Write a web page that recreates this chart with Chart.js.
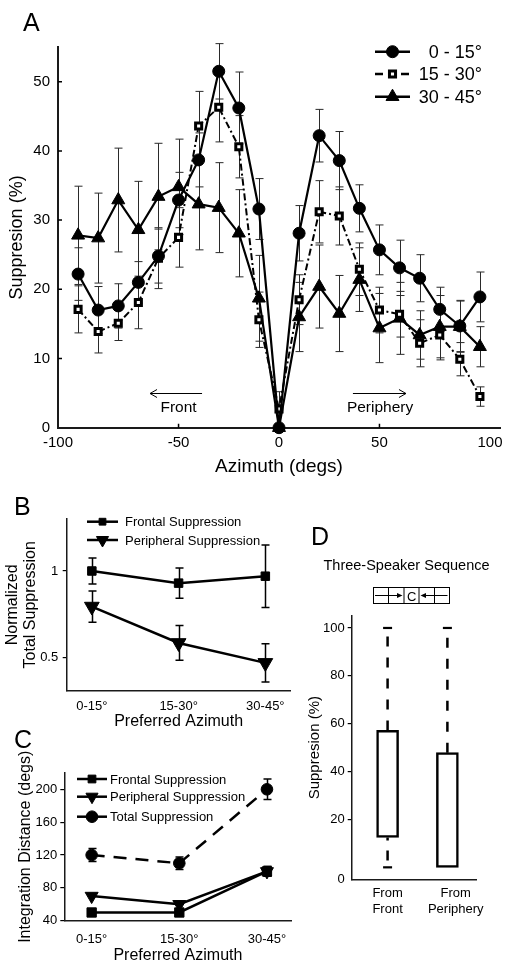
<!DOCTYPE html>
<html><head><meta charset="utf-8">
<script src="https://cdn.jsdelivr.net/npm/chart.js@4.4.0/dist/chart.umd.min.js"></script>
<style>
html,body{margin:0;padding:0;background:#fff;}
body{width:511px;height:968px;position:relative;overflow:hidden;font-family:"Liberation Sans",Arial,Helvetica,sans-serif;color:#000;}
canvas{position:absolute;}
.lbl{position:absolute;font-size:25px;line-height:1;}
.ttl{position:absolute;font-size:14.5px;line-height:1;text-align:center;white-space:nowrap;}
svg{position:absolute;left:0;top:0;}
</style></head><body>
<canvas id="cA" width="511" height="480" style="left:0;top:0;width:511px;height:480px"></canvas>
<canvas id="cB" width="300" height="255" style="left:0;top:480px;width:300px;height:255px"></canvas>
<canvas id="cC" width="300" height="238" style="left:0;top:730px;width:300px;height:238px"></canvas>
<canvas id="cD" width="211" height="488" style="left:300px;top:480px;width:211px;height:488px"></canvas>
<div class="lbl" style="left:23px;top:10px">A</div>
<div class="lbl" style="left:14px;top:494px">B</div>
<div class="lbl" style="left:14px;top:727px">C</div>
<div class="lbl" style="left:311px;top:524px">D</div>
<div class="ttl" style="left:301px;top:558px;width:211px">Three-Speaker Sequence</div>
<svg width="511" height="968" viewBox="0 0 511 968">
  <g stroke="#000" stroke-width="1" fill="none">
    <rect x="373.5" y="587.5" width="76" height="16"/>
    <line x1="388.5" y1="587.5" x2="388.5" y2="603.5"/>
    <line x1="404" y1="587.5" x2="404" y2="603.5"/>
    <line x1="419" y1="587.5" x2="419" y2="603.5"/>
    <line x1="434.5" y1="587.5" x2="434.5" y2="603.5"/>
    <line x1="375" y1="595.5" x2="398" y2="595.5"/>
    <line x1="447.5" y1="595.5" x2="425" y2="595.5"/>
  </g>
  <polygon points="402.5,595.5 397,593 397,598" fill="#000"/>
  <polygon points="420.5,595.5 426,593 426,598" fill="#000"/>
  <text x="411.7" y="600.5" font-size="13" text-anchor="middle" font-family="Liberation Sans, Arial, sans-serif">C</text>
</svg>
<script>
const FONT = '"Liberation Sans", Arial, Helvetica, sans-serif';
Chart.defaults.font.family = FONT;
Chart.defaults.color = '#000';
Chart.defaults.animation = false;

// ---------- Panel A data ----------
const azimuthDeg = [-100,-90,-80,-70,-60,-50,-40,-30,-20,-10,0,10,20,30,40,50,60,70,80,90,100];
const supp0to15  = [22.2,17.0,17.6,21.0,24.8,32.9,38.7,51.5,46.2,31.6,0,28.1,42.2,38.6,31.7,25.7,23.1,21.6,17.1,14.7,18.9];
const sem0to15   = [3.8,3.4,3.2,3.0,3.9,4.0,3.9,4.0,5.2,4.4,0,4.0,3.8,4.2,3.4,3.6,4.0,3.4,3.2,3.7,3.6];
const supp15to30 = [17.1,13.9,15.1,18.1,24.5,27.5,43.6,46.3,40.6,15.6,2.7,18.5,31.2,30.6,22.9,17.0,16.4,12.2,13.4,9.9,4.5];
const sem15to30  = [3.4,3.1,2.5,3.8,4.4,4.3,5.0,5.0,4.5,4.0,2.5,3.6,4.5,4.2,3.8,3.3,3.3,3.4,3.6,2.4,1.4];
const supp30to45 = [27.8,27.4,32.9,28.6,33.4,34.8,32.3,31.8,28.1,18.7,0,16.0,20.4,16.5,21.4,14.4,15.8,13.4,14.6,14.6,11.7];
const sem30to45  = [7.1,6.5,7.5,7.0,7.7,6.9,6.6,6.5,6.3,6.2,0,5.0,6.0,5.5,4.6,5.0,5.2,3.5,4.5,3.7,2.9];
const azTickValues = [-110,-50,0,50,105];
const azTickLabels = ['-100','-50','0','50','100'];
const suppTickValues = [0,10,20,30,40,50];

// ---------- Panel B data ----------
const prefAzIndex  = [0,1,2];
const prefAzLabels = ['0-15°','15-30°','30-45°'];
const frontalNorm    = [1.0, 0.93, 0.97];
const frontalNormErr = [0.075, 0.087, 0.18];
const periphNorm     = [0.795, 0.585, 0.47];
const periphNormErr  = [0.09, 0.10, 0.11];
const normTickValues = [0.5, 1];
const normTickLabels = ['0.5', '1'];

// ---------- Panel C data ----------
const frontalDist    = [50, 50, 100];
const frontalDistErr = [0, 0, 6];
const periphDist     = [70, 60, 100];
const periphDistErr  = [0, 0, 6];
const totalDist      = [120, 110, 200];
const totalDistErr   = [8, 7.5, 12.5];
const distTickValues = [40, 80, 120, 160, 200];

// ---------- Panel D data ----------
const seqGroups   = [['From','Front'], ['From','Periphery']];
const seqPos      = [0, 1];
const seqLabelPos = [0, 1.14];
const boxMin    = [0, 0];
const boxQ1     = [12.5, 0];
const boxMedian = [33.3, 20];
const boxQ3     = [57.2, 47.9];
const boxMax    = [100, 100];
const seqTickValues = [-5, 20, 40, 60, 80, 100];
const seqTickLabels = ['0','20','40','60','80','100'];

const pts = (xs, ys) => xs.map((x, i) => ({x, y: ys[i]}));

// ---------- plugins ----------
const errorBars = {
  id: 'errorBars',
  beforeDatasetsDraw(chart) {
    const ctx = chart.ctx;
    chart.data.datasets.forEach((ds, i) => {
      if (!ds.errors) return;
      const meta = chart.getDatasetMeta(i);
      const xs = chart.scales[meta.xAxisID], ys = chart.scales[meta.yAxisID];
      ctx.save();
      ctx.strokeStyle = ds.errColor || '#000';
      ctx.lineWidth = ds.errWidth || 1;
      const c = (ds.capW || 8) / 2;
      ds.data.forEach((p, j) => {
        const e = ds.errors[j];
        if (!e) return;
        const x = Math.round(xs.getPixelForValue(p.x)) + 0.5;
        const y1 = ys.getPixelForValue(p.y + e), y2 = ys.getPixelForValue(p.y - e);
        ctx.beginPath();
        ctx.moveTo(x, y1); ctx.lineTo(x, y2);
        ctx.moveTo(x - c, y1); ctx.lineTo(x + c, y1);
        ctx.moveTo(x - c, y2); ctx.lineTo(x + c, y2);
        ctx.stroke();
      });
      ctx.restore();
    });
  }
};

const customLegend = {
  id: 'customLegend',
  afterDraw(chart, args, o) {
    if (!o || !o.items) return;
    const ctx = chart.ctx;
    o.items.forEach(it => {
      const ds = chart.data.datasets[it.ds];
      ctx.save();
      ctx.strokeStyle = '#000';
      ctx.lineWidth = it.lw || ds.borderWidth;
      ctx.setLineDash(it.dash || []);
      ctx.beginPath(); ctx.moveTo(it.x1, it.y); ctx.lineTo(it.x2, it.y); ctx.stroke();
      ctx.setLineDash([]);
      ctx.fillStyle = ds.pointBackgroundColor || '#000';
      ctx.strokeStyle = '#000';
      ctx.lineWidth = ds.pointBorderWidth || 1;
      Chart.helpers.drawPoint(ctx, {pointStyle: ds.pointStyle, rotation: ds.pointRotation || 0,
        radius: it.r || ds.pointRadius, borderWidth: ds.pointBorderWidth || 1}, (it.x1 + it.x2) / 2, it.y);
      ctx.fillStyle = '#000';
      ctx.font = o.size + 'px ' + FONT;
      ctx.textAlign = it.align || 'left';
      ctx.textBaseline = 'middle';
      ctx.fillText(ds.label, it.tx, it.y + 1);
      ctx.restore();
    });
  }
};

const inwardTicks = {
  id: 'inwardTicks',
  afterDraw(chart, args, o) {
    if (!o || !o.len) return;
    const {ctx, chartArea: ca, scales} = chart;
    ctx.save(); ctx.strokeStyle = '#000'; ctx.lineWidth = 1.5;
    ctx.beginPath();
    (o.x || []).forEach(v => { const p = scales.x.getPixelForValue(v); ctx.moveTo(p, ca.bottom); ctx.lineTo(p, ca.bottom - o.len); });
    (o.y || []).forEach(v => { const p = scales.y.getPixelForValue(v); ctx.moveTo(ca.left, p); ctx.lineTo(ca.left + o.len, p); });
    ctx.stroke(); ctx.restore();
  }
};

const directionNotes = {
  id: 'directionNotes',
  afterDraw(chart, args, o) {
    if (!o || !o.notes) return;
    const {ctx, scales} = chart;
    ctx.save();
    ctx.strokeStyle = '#000'; ctx.fillStyle = '#000'; ctx.lineWidth = 1;
    ctx.font = o.size + 'px ' + FONT; ctx.textAlign = 'center'; ctx.textBaseline = 'middle';
    o.notes.forEach(n => {
      const xa = scales.x.getPixelForValue(n.from), xb = scales.x.getPixelForValue(n.to);
      const y = Math.round(scales.y.getPixelForValue(n.arrowY)) + 0.5;
      const dir = xb > xa ? 1 : -1;
      ctx.beginPath();
      ctx.moveTo(xa, y); ctx.lineTo(xb, y);
      ctx.moveTo(xb - dir * 7, y - 4); ctx.lineTo(xb, y); ctx.lineTo(xb - dir * 7, y + 4);
      ctx.stroke();
      ctx.fillText(n.text, scales.x.getPixelForValue(n.textX), scales.y.getPixelForValue(n.textY));
    });
    ctx.restore();
  }
};

const noHover = {legend: {display: false}, tooltip: {enabled: false}};

// ---------- Chart A ----------
new Chart(document.getElementById('cA'), {
  type: 'line',
  data: {datasets: [
    {label: '0 - 15°', data: pts(azimuthDeg, supp0to15), errors: sem0to15, errColor: '#2a2a2a', errWidth: 1, capW: 8,
     borderColor: '#000', borderWidth: 2.2, pointStyle: 'circle', pointRadius: 6, pointBorderWidth: 1,
     pointBackgroundColor: '#000', pointBorderColor: '#000', clip: false},
    {label: '15 - 30°', data: pts(azimuthDeg, supp15to30), errors: sem15to30, errColor: '#2a2a2a', errWidth: 1, capW: 8,
     borderColor: '#000', borderWidth: 2, borderDash: [7, 3, 2, 3], pointStyle: 'rect', pointRadius: 4.3, pointBorderWidth: 3,
     pointBackgroundColor: '#fff', pointBorderColor: '#000', clip: false},
    {label: '30 - 45°', data: pts(azimuthDeg, supp30to45), errors: sem30to45, errColor: '#2a2a2a', errWidth: 1, capW: 8,
     borderColor: '#000', borderWidth: 2.2, pointStyle: 'triangle', pointRadius: 7.5, pointBorderWidth: 1,
     pointBackgroundColor: '#000', pointBorderColor: '#000', clip: false}
  ]},
  options: {
    responsive: false, animation: false,
    layout: {padding: {top: 47.1, right: 11, left: 0, bottom: 0}},
    plugins: Object.assign({}, noHover, {
      customLegend: {size: 18, items: [
        {ds: 0, x1: 375, x2: 410, y: 51.7, tx: 482, align: 'right', lw: 2.5},
        {ds: 1, x1: 375, x2: 410, y: 74, tx: 482, align: 'right', lw: 2.5, dash: [8, 5]},
        {ds: 2, x1: 375, x2: 410, y: 96.7, tx: 482, align: 'right', lw: 2.5}
      ]},
      inwardTicks: {len: 4, x: [-50, 0, 50], y: [10, 20, 30, 40, 50]},
      directionNotes: {size: 15.5, notes: [
        {from: -38.3, to: -64.2, arrowY: 5.0, text: 'Front', textX: -50, textY: 2.85},
        {from: 36.8, to: 63.2, arrowY: 5.0, text: 'Periphery', textX: 50.3, textY: 2.85}
      ]}
    }),
    scales: {
      x: {type: 'linear', min: -110, max: 110,
        afterFit(s) { s.height = 52.3; },
        afterBuildTicks(s) { s.ticks = azTickValues.map(v => ({value: v})); },
        ticks: {callback: (v, i) => azTickLabels[i], font: {size: 15}, color: '#000', padding: 6, maxRotation: 0, autoSkip: false},
        grid: {display: false, drawTicks: false},
        border: {display: true, color: '#1a1a1a', width: 2},
        title: {display: true, text: 'Azimuth (degs)', font: {size: 19}, color: '#000', padding: {top: 0, bottom: 2}}
      },
      y: {type: 'linear', min: 0, max: 55,
        afterFit(s) { s.width = 58; },
        afterBuildTicks(s) { s.ticks = suppTickValues.map(v => ({value: v})); },
        ticks: {font: {size: 15}, color: '#000', padding: 8},
        grid: {display: false, drawTicks: false},
        border: {display: true, color: '#1a1a1a', width: 2},
        title: {display: true, text: 'Suppresion (%)', font: {size: 18}, color: '#000', padding: {top: 6, bottom: 0}}
      }
    }
  },
  plugins: [errorBars, customLegend, inwardTicks, directionNotes]
});

// ---------- Chart B ----------
new Chart(document.getElementById('cB'), {
  type: 'line',
  data: {datasets: [
    {label: 'Frontal Suppression', data: pts(prefAzIndex, frontalNorm), errors: frontalNormErr, errWidth: 1.5, capW: 8,
     borderColor: '#000', borderWidth: 2.5, pointStyle: 'rect', pointRadius: 6, pointBorderWidth: 1,
     pointBackgroundColor: '#000', pointBorderColor: '#000', clip: false},
    {label: 'Peripheral Suppression', data: pts(prefAzIndex, periphNorm), errors: periphNormErr, errWidth: 1.5, capW: 8,
     borderColor: '#000', borderWidth: 2.5, pointStyle: 'triangle', pointRotation: 180, pointRadius: 8.5, pointBorderWidth: 1,
     pointBackgroundColor: '#000', pointBorderColor: '#000', clip: false}
  ]},
  options: {
    responsive: false, animation: false,
    layout: {padding: {top: 39, right: 2, left: 0, bottom: 0}},
    plugins: Object.assign({}, noHover, {
      customLegend: {size: 13, items: [
        {ds: 0, x1: 87, x2: 118, y: 41.7, tx: 125, r: 4.8, lw: 2.5},
        {ds: 1, x1: 87, x2: 118, y: 60, tx: 125, r: 7, lw: 2.5}
      ]}
    }),
    scales: {
      x: {type: 'linear', min: -0.29, max: 2.29,
        afterFit(s) { s.height = 44.4; },
        afterBuildTicks(s) { s.ticks = prefAzIndex.map(v => ({value: v})); },
        ticks: {callback: (v, i) => prefAzLabels[i], font: {size: 13}, color: '#000', padding: 8, maxRotation: 0, autoSkip: false},
        grid: {display: false, drawTicks: false},
        border: {display: true, color: '#1a1a1a', width: 1.5},
        title: {display: true, text: 'Preferred Azimuth', font: {size: 16}, color: '#000', padding: {top: 0, bottom: 3.7}}
      },
      y: {type: 'linear', min: 0.31, max: 1.3,
        afterFit(s) { s.width = 66.7; },
        afterBuildTicks(s) { s.ticks = normTickValues.map(v => ({value: v})); },
        ticks: {callback: (v, i) => normTickLabels[i], font: {size: 13}, color: '#000', padding: 4.5},
        grid: {display: true, drawOnChartArea: false, drawTicks: true, tickLength: 4, color: '#000', lineWidth: 1.2},
        border: {display: true, color: '#1a1a1a', width: 1.5},
        title: {display: true, text: ['Normalized', 'Total Suppression'], font: {size: 16, lineHeight: 1.1}, color: '#000', padding: {top: 3.7, bottom: 0}}
      }
    }
  },
  plugins: [errorBars, customLegend]
});

// ---------- Chart C ----------
new Chart(document.getElementById('cC'), {
  type: 'line',
  data: {datasets: [
    {label: 'Frontal Suppression', data: pts(prefAzIndex, frontalDist), errors: frontalDistErr, errWidth: 1.5, capW: 8,
     borderColor: '#000', borderWidth: 2.5, pointStyle: 'rect', pointRadius: 6.6, pointBorderWidth: 1,
     pointBackgroundColor: '#000', pointBorderColor: '#000', clip: false},
    {label: 'Peripheral Suppression', data: pts(prefAzIndex, periphDist), errors: periphDistErr, errWidth: 1.5, capW: 8,
     borderColor: '#000', borderWidth: 2.5, pointStyle: 'triangle', pointRotation: 180, pointRadius: 7.5, pointBorderWidth: 1,
     pointBackgroundColor: '#000', pointBorderColor: '#000', clip: false},
    {label: 'Total Suppression', data: pts(prefAzIndex, totalDist), errors: totalDistErr, errWidth: 1.5, capW: 8,
     borderColor: '#000', borderWidth: 2.5, borderDash: [13, 9], pointStyle: 'circle', pointRadius: 5.8, pointBorderWidth: 1,
     pointBackgroundColor: '#000', pointBorderColor: '#000', clip: false}
  ]},
  options: {
    responsive: false, animation: false,
    layout: {padding: {top: 42.9, right: 3, left: 0, bottom: 0}},
    plugins: Object.assign({}, noHover, {
      customLegend: {size: 13, items: [
        {ds: 0, x1: 77, x2: 107, y: 49, tx: 110, r: 5.5, lw: 2.5},
        {ds: 1, x1: 77, x2: 107, y: 66.7, tx: 110, r: 7, lw: 2.5},
        {ds: 2, x1: 77, x2: 107, y: 86.7, tx: 110, r: 5.8, lw: 2.5}
      ]}
    }),
    scales: {
      x: {type: 'linear', min: -0.312, max: 2.28,
        afterFit(s) { s.height = 47.3; },
        afterBuildTicks(s) { s.ticks = prefAzIndex.map(v => ({value: v})); },
        ticks: {callback: (v, i) => prefAzLabels[i], font: {size: 13}, color: '#000', padding: 10.5, maxRotation: 0, autoSkip: false},
        grid: {display: false, drawTicks: false},
        border: {display: true, color: '#1a1a1a', width: 1.5},
        title: {display: true, text: 'Preferred Azimuth', font: {size: 16}, color: '#000', padding: {top: 0, bottom: 2.4}}
      },
      y: {type: 'linear', min: 40, max: 220,
        afterFit(s) { s.width = 64.3; },
        afterBuildTicks(s) { s.ticks = distTickValues.map(v => ({value: v})); },
        ticks: {font: {size: 13}, color: '#000', padding: 3},
        grid: {display: true, drawOnChartArea: false, drawTicks: true, tickLength: 4, color: '#000', lineWidth: 1.2},
        border: {display: true, color: '#1a1a1a', width: 1.5},
        title: {display: true, text: 'Integration Distance (degs)', font: {size: 16}, color: '#000', padding: {top: 15.5, bottom: 0}}
      }
    }
  },
  plugins: [errorBars, customLegend]
});

// ---------- Chart D ----------
const whiskerSets = [];
seqPos.forEach((x, i) => {
  if (boxMax[i] > boxQ3[i]) whiskerSets.push({type: 'line', data: [{x, y: boxQ3[i]}, {x, y: boxMax[i]}], borderColor: '#000', borderWidth: 2.5, borderDash: [10, 11], pointRadius: 0, clip: false});
  if (boxMin[i] < boxQ1[i]) whiskerSets.push({type: 'line', data: [{x, y: boxQ1[i]}, {x, y: boxMin[i]}], borderColor: '#000', borderWidth: 2.5, borderDash: [3, 10, 10, 10], pointRadius: 0, clip: false});
});
const capPoints = [];
seqPos.forEach((x, i) => {
  capPoints.push({x, y: boxMax[i]});
  if (boxMin[i] < boxQ1[i]) capPoints.push({x, y: boxMin[i]});
});
new Chart(document.getElementById('cD'), {
  type: 'bar',
  data: {datasets: [
    ...whiskerSets,
    {type: 'line', data: capPoints, showLine: false, pointStyle: 'line', pointRadius: 4.5, pointBorderWidth: 2.2, pointBorderColor: '#000', clip: false},
    {type: 'bar', data: seqPos.map((x, i) => ({x, y: [boxQ1[i], boxQ3[i]]})), backgroundColor: '#fff', borderColor: '#000', borderWidth: 2.5, borderSkipped: false, barThickness: 22},
    {type: 'line', data: pts(seqPos, boxMedian), showLine: false, pointStyle: 'line', pointRadius: 10, pointBorderWidth: 2.2, pointBorderColor: '#000', clip: false}
  ]},
  options: {
    responsive: false, animation: false,
    layout: {padding: {top: 136, right: 34.3, left: 0, bottom: 0}},
    plugins: noHover,
    scales: {
      x: {type: 'linear', min: -0.6, max: 1.49, offset: false,
        afterFit(s) { s.height = 88.7; },
        afterBuildTicks(s) { s.ticks = seqLabelPos.map(v => ({value: v})); },
        ticks: {callback: (v, i) => seqGroups[i], font: {size: 13, lineHeight: 1.23}, color: '#000', padding: 6, maxRotation: 0, autoSkip: false},
        grid: {display: false, drawTicks: false},
        border: {display: true, color: '#1a1a1a', width: 1.5}
      },
      y: {type: 'linear', min: -5, max: 105,
        afterFit(s) { s.width = 51.7; },
        afterBuildTicks(s) { s.ticks = seqTickValues.map(v => ({value: v})); },
        ticks: {callback: (v, i) => seqTickLabels[i], font: {size: 13}, color: '#000', padding: 3},
        grid: {display: true, drawOnChartArea: false, drawTicks: true, tickLength: 4, lineWidth: 1.2,
               color: c => (c.tick && c.tick.value === -5) ? 'rgba(0,0,0,0)' : '#000'},
        border: {display: true, color: '#1a1a1a', width: 1.5},
        title: {display: true, text: 'Suppresion (%)', font: {size: 15}, color: '#000', padding: {top: 6, bottom: 0}}
      }
    }
  }
});
</script>
</body></html>
